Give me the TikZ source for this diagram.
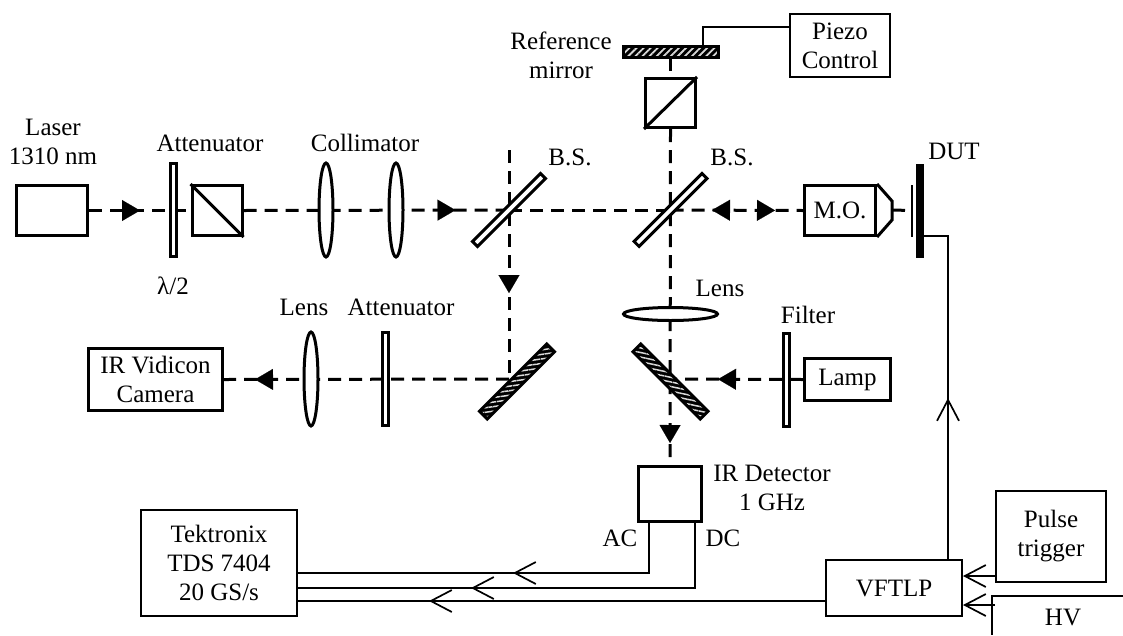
\documentclass[tikz,border=0pt]{standalone}
\usepackage{fontspec}
\setmainfont{Liberation Serif}
\usetikzlibrary{arrows.meta,backgrounds,decorations.markings,patterns.meta,shapes.geometric}
\tikzset{
  lab/.style={font=\fontsize{25}{29}\selectfont,align=center,inner sep=0pt},
  thickbox/.style={lab,draw,line width=3pt,minimum width=#1},
  thinbox/.style={lab,draw,line width=1.7pt,minimum width=#1},
  plate/.style={draw,fill=white,line width=3pt,inner sep=0pt,minimum width=6.5pt,minimum height=93pt},
  lensv/.style={ellipse,draw,fill=white,line width=3pt,inner sep=0pt,minimum width=14pt,minimum height=94pt},
  lensh/.style={ellipse,draw,fill=white,line width=3pt,inner sep=0pt,minimum width=94pt,minimum height=13pt},
  splitter/.style={draw,fill=white,line width=3pt,inner sep=0pt,minimum width=96pt,minimum height=7pt,rotate=45},
  mirrorup/.style={draw,line width=3pt,inner sep=0pt,minimum width=95pt,minimum height=11pt,rotate=#1,
    preaction={fill=black},pattern color=white!85!black},
  beam/.style={line width=3pt,dash pattern=on 13pt off 8pt},
  wire/.style={line width=1.7pt},
  tipat/.style={postaction={decorate,decoration={markings,mark=at position #1 with
    {\arrow[line width=.1pt]{Triangle[length=18pt,width=21pt]}}}}},
  tipback/.style={postaction={decorate,decoration={markings,mark=at position #1 with
    {\arrowreversed[line width=.1pt]{Triangle[length=18pt,width=21pt]}}}}},
  barbat/.style={postaction={decorate,decoration={markings,mark=at position #1 with
    {\arrow[line width=1.7pt]{Straight Barb[length=21pt,width=22pt]}}}}},
  barbend/.style={-{Straight Barb[length=21pt,width=22pt]}},
}
\begin{document}
\begin{tikzpicture}[x=1pt,y=-1pt]
  \useasboundingbox (0,0) rectangle (1123,635);
  \node[thickbox=71pt,minimum height=50pt] (laser) at (52,210.5) {};
  \node[plate] (halfwave) at (173.5,210) {};
  \node[thickbox=50pt,minimum height=50pt] (cubeleft) at (217,210.5) {};
  \node[lensv] (collimA) at (326,210) {};
  \node[lensv] (collimB) at (396,210) {};
  \node[splitter] (bsleft) at (509,210) {};
  \node[splitter] (bsright) at (670.5,210) {};
  \node[mirrorup=0,pattern={Lines[angle=45,distance=5pt,line width=1.8pt]}] (refmirror) at (670.5,52) {};
  \node[thickbox=50pt,minimum height=49pt] (cubetop) at (670.5,103) {};
  \node[thinbox=100pt,minimum height=63pt] (piezo) at (840,45.5) {Piezo\\Control};
  \node[thickbox=71pt,minimum height=50pt] (objective) at (840,210.5) {M.O.};
  \node[draw,fill=black,line width=0pt,inner sep=0pt,minimum width=1.5pt,minimum height=51pt] (dutgate) at (912,210.5) {};
  \node[draw,fill=black,line width=0pt,inner sep=0pt,minimum width=7.5pt,minimum height=93pt] (dut) at (920,210.5) {};
  \coordinate (nose) at (892,210);
  \node[thickbox=134pt,minimum height=62pt] (camera) at (155.5,379.5) {IR Vidicon\\Camera};
  \node[lensv] (lensleft) at (311,379) {};
  \node[plate] (attenlow) at (385.5,379) {};
  \node[mirrorup=45,pattern={Lines[angle=8,distance=4.5pt,line width=1.5pt]}] (foldleft) at (517,381.5) {};
  \node[mirrorup=-45,pattern={Lines[angle=-12,distance=4.5pt,line width=1.5pt]}] (foldright) at (670.5,381.5) {};
  \node[lensh] (lensmid) at (670.5,314) {};
  \node[plate] (filter) at (786.5,379.5) {};
  \node[thickbox=86pt,minimum height=42pt] (lamp) at (847.5,379.5) {Lamp};
  \node[thickbox=63pt,minimum height=55pt] (detector) at (670,494) {};
  \node[thinbox=156pt,minimum height=106pt] (scope) at (219,563) {Tektronix\\TDS 7404\\20 GS/s};
  \node[thinbox=136pt,minimum height=56pt] (vftlp) at (894,588) {VFTLP};
  \node[thinbox=110pt,minimum height=91pt] (pulse) at (1051,536.5) {Pulse\\trigger};
  \node[lab] (laserlab) at (53,142) {Laser\\1310 nm};
  \node[lab] (attenlab) at (210,143) {Attenuator};
  \node[lab] (collimlab) at (365,143) {Collimator};
  \node[lab] (wavelab) at (173,286) {λ/2};
  \node[lab] (reflab) at (561,55) {Reference\\mirror};
  \node[lab] (bsleftlab) at (570,157) {B.S.};
  \node[lab] (bsrightlab) at (732,157) {B.S.};
  \node[lab] (dutlab) at (954,151) {DUT};
  \node[lab] (lensmidlab) at (720,288) {Lens};
  \node[lab] (filterlab) at (808,315) {Filter};
  \node[lab] (lensleftlab) at (304,307) {Lens};
  \node[lab] (attenlowlab) at (401,307) {Attenuator};
  \node[lab] (detlab) at (772,488) {IR Detector\\1 GHz};
  \node[lab] (aclab) at (620,538) {AC};
  \node[lab] (dclab) at (723,538) {DC};
  \node[lab] (hvlab) at (1063,617) {HV};
  \coordinate (bstop) at (509,150);
  \coordinate (foldleftc) at (509,379);
  \coordinate (foldrightc) at (670.5,379);
  \coordinate (piezoin) at (789,27);
  \coordinate (mirrorwire) at (703,45);
  \coordinate (dutwire) at (924,236);
  \coordinate (vftlpup) at (948,559);
  \coordinate (acout) at (649,523);
  \coordinate (dcout) at (695,523);
  \coordinate (scopeac) at (298,573);
  \coordinate (scopedc) at (298,588);
  \coordinate (scopevf) at (298,601);
  \coordinate (vfin) at (825,601);
  \coordinate (pulseout) at (995,576);
  \coordinate (pulsein) at (963,576);
  \coordinate (hvout) at (995,605);
  \coordinate (hvin) at (963,605);
  \coordinate (hvtop) at (1123,596);
  \coordinate (hvfoot) at (992,635);
  \begin{pgfonlayer}{background}
    \draw[beam,tipat=51pt] (laser.east)--(cubeleft.west);
    \draw[beam,tipat=212pt] (cubeleft.east)--(bsleft.center);
    \draw[beam] (bsleft.center)--(bsright.center);
    \draw[beam,tipat=104.5pt,tipback=41.5pt] (bsright.center)--(objective.west);
    \draw[beam] (nose)--(dutgate.west);
    \draw[beam] (refmirror.south)--(cubetop.north);
    \draw[beam,tipat=314pt] (cubetop.south)--(detector.north);
    \draw[beam,tipat=143pt] (bstop)--(foldleftc);
    \draw[beam,tipat=254pt] (foldleftc)--(camera.east);
    \draw[beam,tipat=85pt] (lamp.west)--(foldrightc);
  \end{pgfonlayer}
  \draw[line width=3pt,line join=miter] (objective.north east)--++(15,17)--++(0,19)--(objective.south east);
  \draw[line width=3pt] (cubeleft.north west)--(cubeleft.south east);
  \draw[line width=3pt] (cubetop.south west)--(cubetop.north east);
  \draw[wire] (piezoin)-|(mirrorwire);
  \draw[wire] (dutwire)-|(948,398);
  \draw[wire,barbat=161pt] (vftlpup)--(948,300);
  \draw[wire,barbat=186pt] (acout)|-(scopeac);
  \draw[wire,barbat=289pt] (dcout)|-(scopedc);
  \draw[wire,barbat=396pt] (vfin)--(scopevf);
  \draw[wire,barbend] (pulseout)--(pulsein);
  \draw[wire,barbend] (hvout)--(hvin);
  \draw[wire] (hvtop)-|(hvfoot);
\end{tikzpicture}
\end{document}
